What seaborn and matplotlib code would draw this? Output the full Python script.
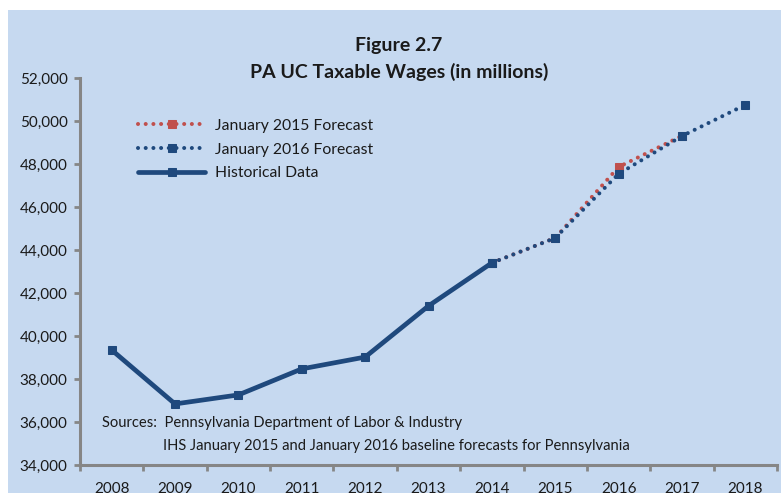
"""
PA UC Taxable Wages chart (Figure 2.7)
Historical data plus the January 2015 / January 2016 forecasts
"""

import numpy as np
import pandas as pd
import matplotlib
matplotlib.use('Agg')
import matplotlib.pyplot as plt
import seaborn as sns
from matplotlib.patches import Rectangle
from matplotlib.ticker import FuncFormatter, FixedLocator

# Data (millions of dollars)
hist_years = [2008, 2009, 2010, 2011, 2012, 2013, 2014]
hist_values = [39350, 36840, 37260, 38470, 39020, 41400, 43400]

f2015_years = [2014, 2015, 2016, 2017]
f2015_values = [43400, 44560, 47860, 49310]

f2016_years = [2014, 2015, 2016, 2017, 2018]
f2016_values = [43400, 44560, 47540, 49300, 50750]

year_labels = [str(y) for y in range(2008, 2019)]
y_ticks = list(range(34000, 52001, 2000))

title_lines = ['Figure 2.7', 'PA UC Taxable Wages (in millions)']
source_lines = ['Sources:  Pennsylvania Department of Labor & Industry',
                'IHS January 2015 and January 2016 baseline forecasts for Pennsylvania']

BG = '#C6D9F0'
BLUE = '#1F497D'
RED = '#C0504D'
GRAY = '#868686'
TXT = '#1a1a1a'

sns.set_style('white')
plt.rcParams['font.family'] = ['Lato', 'DejaVu Sans']

fig = plt.figure(figsize=(7.81, 4.97), dpi=100, facecolor='white')
fig.patches.append(Rectangle((8 / 781, 4 / 497), 1, 1 - 14 / 497,
                             transform=fig.transFigure, facecolor=BG,
                             edgecolor='none', zorder=-10))

ax = fig.add_axes([80 / 781, 32 / 497, 697 / 781, 387 / 497])
ax.patch.set_alpha(0)

df15 = pd.DataFrame({'year': f2015_years, 'value': f2015_values})
df16 = pd.DataFrame({'year': f2016_years, 'value': f2016_values})
dfh = pd.DataFrame({'year': hist_years, 'value': hist_values})

dot_style = dict(linestyle=(0, (0.01, 1.9)), linewidth=2.9,
                 dash_capstyle='round', marker='s', markersize=6)

sns.lineplot(data=df15, x='year', y='value', ax=ax, color=RED,
             label='January 2015 Forecast', markeredgecolor=RED, **dot_style)
sns.lineplot(data=df16, x='year', y='value', ax=ax, color=BLUE,
             label='January 2016 Forecast', markeredgecolor=BLUE, **dot_style)
sns.lineplot(data=dfh, x='year', y='value', ax=ax, color=BLUE,
             label='Historical Data', linewidth=3.4, marker='s',
             markersize=6, markeredgecolor=BLUE)

ax.set_xlim(2007.5, 2018.5)
ax.set_ylim(34000, 52000)

# axis styling
for side in ['top', 'right']:
    ax.spines[side].set_visible(False)
for side in ['left', 'bottom']:
    ax.spines[side].set_color(GRAY)
    ax.spines[side].set_linewidth(2.2)

ax.set_yticks(y_ticks)
ax.yaxis.set_major_formatter(FuncFormatter(lambda v, p: f'{int(v):,}'))
ax.tick_params(axis='y', length=4, width=2, color=GRAY, pad=5,
               labelsize=11, labelcolor=TXT, left=True)

ax.set_xticks(range(2008, 2019))
ax.set_xticklabels(year_labels)
ax.xaxis.set_minor_locator(FixedLocator(np.arange(2007.5, 2019, 1.0)))
ax.tick_params(axis='x', which='major', length=0, pad=12,
               labelsize=11, labelcolor=TXT)
ax.tick_params(axis='x', which='minor', length=4, width=2, color=GRAY,
               bottom=True)
ax.set_xlabel('')
ax.set_ylabel('')

leg = ax.legend(loc='upper left', bbox_to_anchor=(130 / 781, 1 - 111 / 497),
                bbox_transform=fig.transFigure, frameon=False, fontsize=11.3,
                handlelength=4.3, handletextpad=0.6, labelspacing=0.62,
                numpoints=1, borderpad=0)
for t in leg.get_texts():
    t.set_color(TXT)

fig.text(399 / 781, 1 - 45 / 497, title_lines[0], ha='center', va='center',
         fontsize=14, fontweight='bold', color=TXT)
fig.text(399 / 781, 1 - 72 / 497, title_lines[1], ha='center', va='center',
         fontsize=14, fontweight='bold', color=TXT)

fig.text(102 / 781, 1 - 423 / 497, source_lines[0], ha='left', va='center',
         fontsize=10.6, color=TXT)
fig.text(163 / 781, 1 - 446 / 497, source_lines[1], ha='left', va='center',
         fontsize=10.6, color=TXT)

fig.savefig('out.png', dpi=100, facecolor='white')
